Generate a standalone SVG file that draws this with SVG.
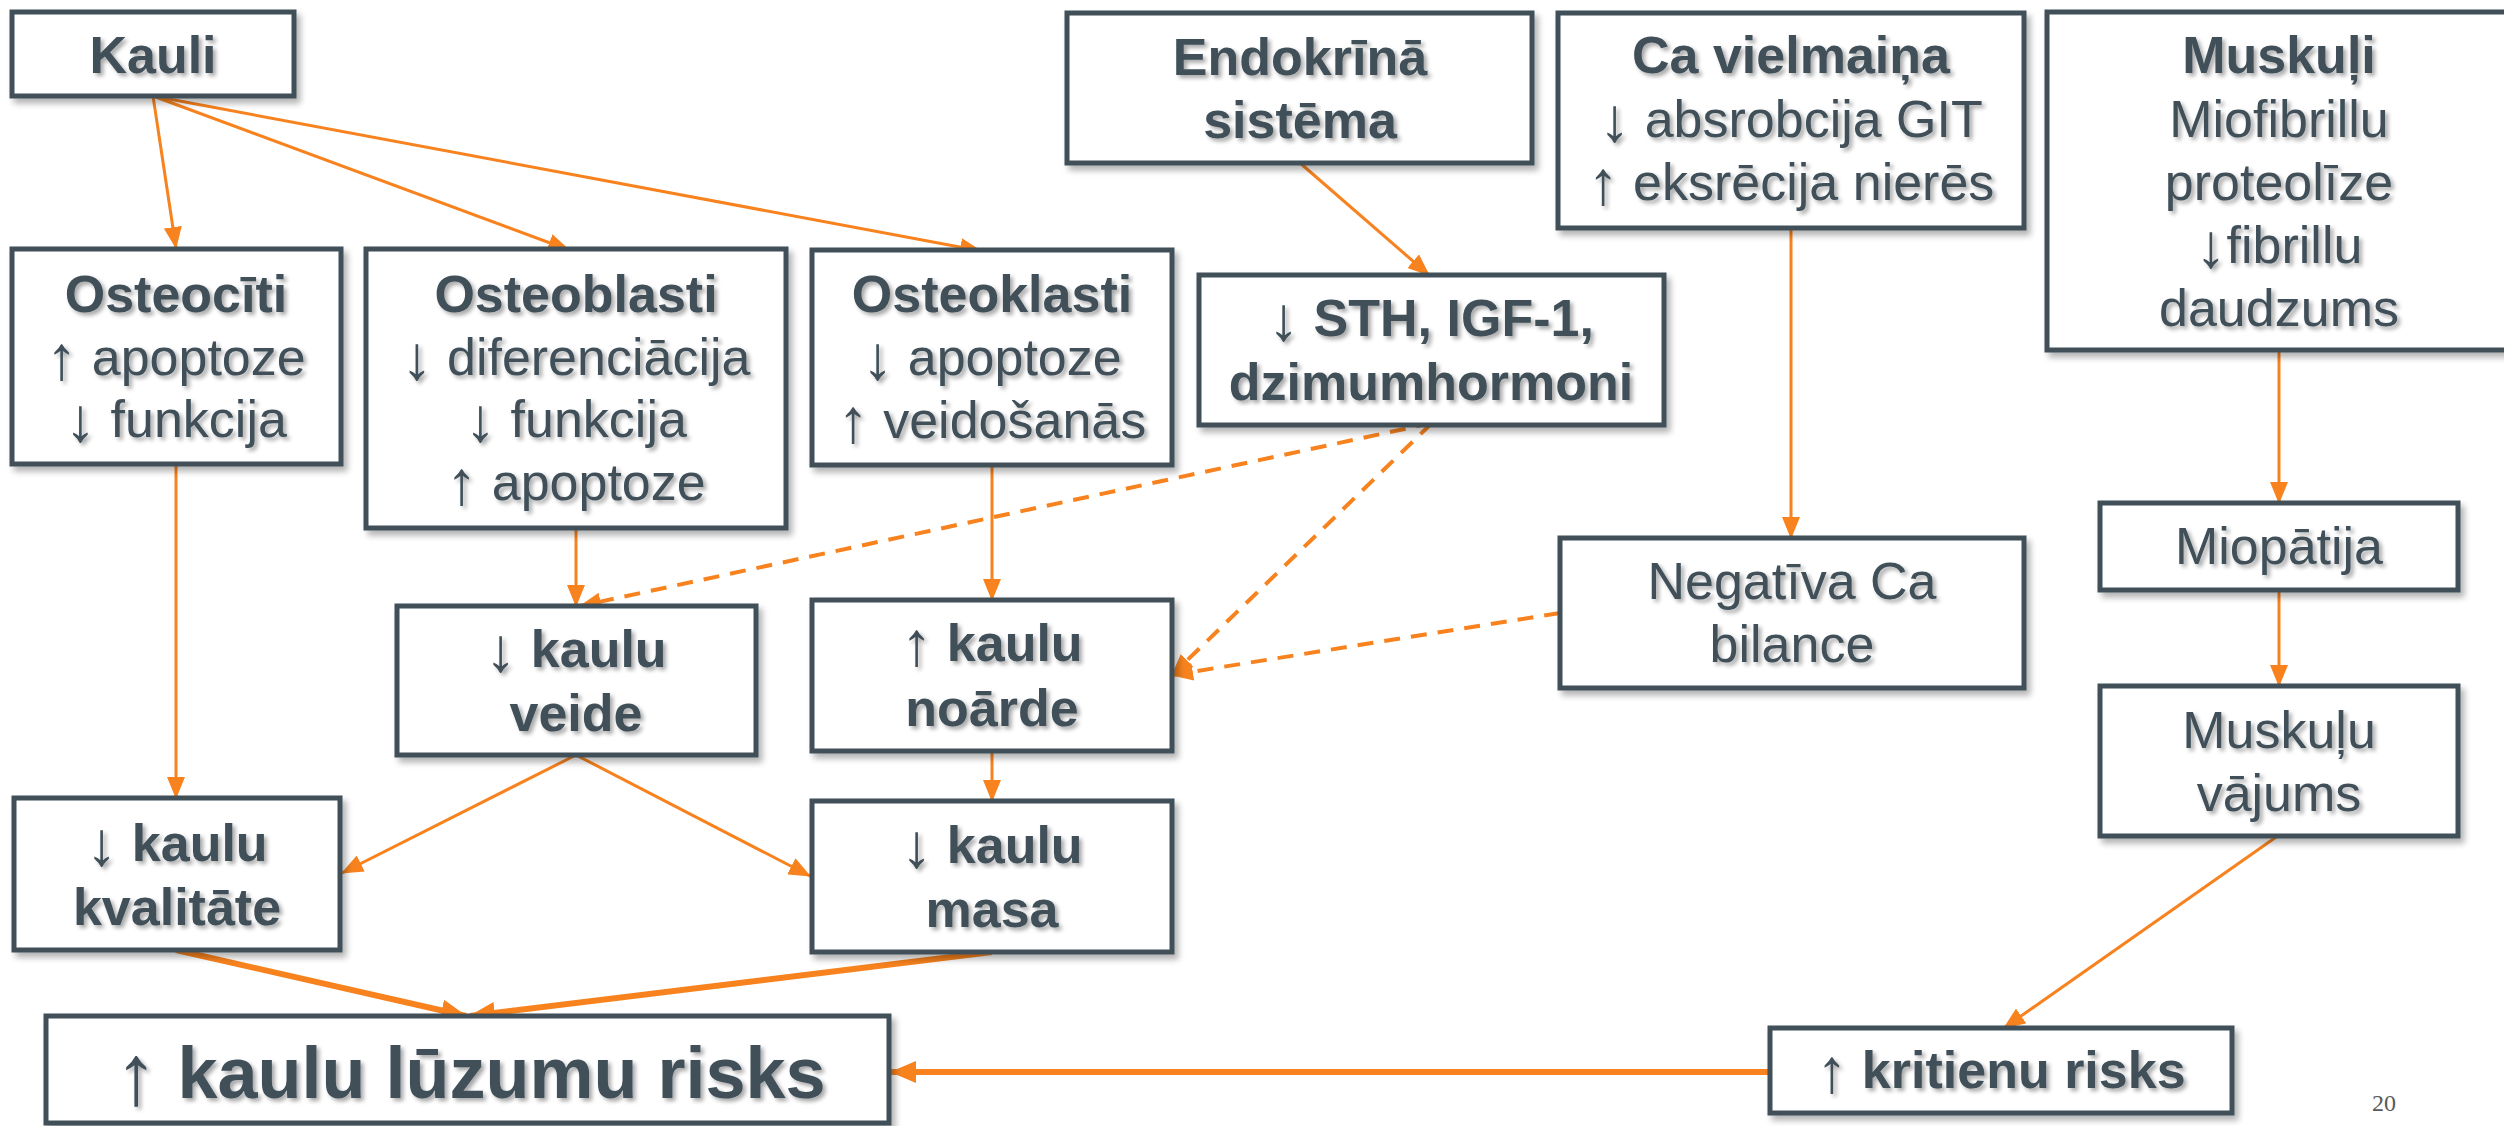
<svg xmlns="http://www.w3.org/2000/svg" width="2504" height="1126" viewBox="0 0 2504 1126">
<defs>
<style>
.box{fill:#ffffff;stroke:#3F4F59;stroke-width:5;filter:url(#bshadow)}
.t{font-family:"Liberation Sans",Arial,sans-serif;font-size:52px;fill:#3F4F59;text-anchor:middle;filter:url(#tshadow)}
.b{font-weight:bold}
.ar{font-weight:normal;font-size:62px;baseline-shift:-4px}
.big{font-size:72px}
.big .ar{font-size:86px;baseline-shift:-6px}
.c{fill:none;stroke:#F7821E;stroke-width:3}
.thick{stroke-width:6}
.dash{stroke-width:4;stroke-dasharray:16 11}
.pg{font-family:"Liberation Serif","Times New Roman",serif;font-size:24px;fill:#595959;text-anchor:middle}
</style>
<filter id="tshadow" x="-10%" y="-30%" width="125%" height="170%">
<feGaussianBlur in="SourceAlpha" stdDeviation="2"/>
<feOffset dx="3" dy="3" result="o"/>
<feComponentTransfer><feFuncA type="linear" slope="0.35"/></feComponentTransfer>
<feMerge><feMergeNode/><feMergeNode in="SourceGraphic"/></feMerge>
</filter>
<filter id="bshadow" x="-10%" y="-10%" width="125%" height="130%">
<feGaussianBlur in="SourceAlpha" stdDeviation="3"/>
<feOffset dx="4" dy="5" result="o"/>
<feComponentTransfer><feFuncA type="linear" slope="0.3"/></feComponentTransfer>
<feMerge><feMergeNode/><feMergeNode in="SourceGraphic"/></feMerge>
</filter>
<marker id="ah" markerUnits="userSpaceOnUse" markerWidth="22" markerHeight="18" refX="21" refY="9" orient="auto">
<path d="M0,0 L22,9 L0,18 z" fill="#F7821E"/>
</marker>
<marker id="ahb" markerUnits="userSpaceOnUse" markerWidth="26" markerHeight="22" refX="25" refY="11" orient="auto">
<path d="M0,0 L26,11 L0,22 z" fill="#F7821E"/>
</marker>
</defs>
<rect width="2504" height="1126" fill="#ffffff"/>

<g id="connectors">
<line class="c" x1="153" y1="96" x2="176" y2="248" marker-end="url(#ah)"/>
<line class="c" x1="153" y1="96" x2="569" y2="250" marker-end="url(#ah)"/>
<line class="c" x1="153" y1="96" x2="981" y2="251" marker-end="url(#ah)"/>
<line class="c" x1="1300" y1="163" x2="1429" y2="275" marker-end="url(#ah)"/>
<line class="c" x1="1791" y1="228" x2="1791" y2="538" marker-end="url(#ah)"/>
<line class="c" x1="2279" y1="350" x2="2279" y2="503" marker-end="url(#ah)"/>
<line class="c" x1="2279" y1="590" x2="2279" y2="686" marker-end="url(#ah)"/>
<line class="c" x1="2279" y1="835" x2="2004" y2="1028" marker-end="url(#ah)"/>
<line class="c" x1="176" y1="464" x2="176" y2="798" marker-end="url(#ah)"/>
<line class="c" x1="576" y1="528" x2="576" y2="606" marker-end="url(#ah)"/>
<line class="c" x1="992" y1="465" x2="992" y2="600" marker-end="url(#ah)"/>
<line class="c" x1="992" y1="751" x2="992" y2="801" marker-end="url(#ah)"/>
<line class="c" x1="576" y1="755" x2="342" y2="873" marker-end="url(#ah)"/>
<line class="c" x1="576" y1="755" x2="810" y2="876" marker-end="url(#ah)"/>
<line class="c thick" x1="176" y1="950" x2="466" y2="1016" marker-end="url(#ahb)"/>
<line class="c thick" x1="992" y1="952" x2="470" y2="1016" marker-end="url(#ahb)"/>
<line class="c thick" x1="1770" y1="1072" x2="891" y2="1072" marker-end="url(#ahb)"/>
<line class="c dash" x1="1432" y1="423" x2="580" y2="606" marker-end="url(#ah)"/>
<line class="c dash" x1="1432" y1="423" x2="1172" y2="675" marker-end="url(#ah)"/>
<line class="c dash" x1="1560" y1="613" x2="1172" y2="675" marker-end="url(#ah)"/>
</g>

<g id="kauli">
<rect class="box" x="12" y="12" width="282" height="84"/>
<text class="t b" x="153" y="73">Kauli</text>
</g>
<g id="osteociti">
<rect class="box" x="12" y="249" width="329" height="215"/>
<text class="t" x="176" y="312"><tspan class="b">Osteocīti</tspan><tspan x="176" dy="63"><tspan class="ar">↑</tspan> apoptoze</tspan><tspan x="176" dy="62"><tspan class="ar">↓</tspan> funkcija</tspan></text>
</g>
<g id="osteoblasti">
<rect class="box" x="366" y="249" width="420" height="279"/>
<text class="t" x="576" y="312"><tspan class="b">Osteoblasti</tspan><tspan x="576" dy="63"><tspan class="ar">↓</tspan> diferenciācija</tspan><tspan x="576" dy="62"><tspan class="ar">↓</tspan> funkcija</tspan><tspan x="576" dy="63"><tspan class="ar">↑</tspan> apoptoze</tspan></text>
</g>
<g id="osteoklasti">
<rect class="box" x="812" y="250" width="360" height="215"/>
<text class="t" x="992" y="312"><tspan class="b">Osteoklasti</tspan><tspan x="992" dy="63"><tspan class="ar">↓</tspan> apoptoze</tspan><tspan x="992" dy="63"><tspan class="ar">↑</tspan> veidošanās</tspan></text>
</g>
<g id="endokrina">
<rect class="box" x="1067" y="13" width="465" height="150"/>
<text class="t b" x="1300" y="75">Endokrīnā<tspan x="1300" dy="63">sistēma</tspan></text>
</g>
<g id="sth">
<rect class="box" x="1199" y="275" width="465" height="150"/>
<text class="t b" x="1431" y="336"><tspan class="ar">↓</tspan> STH, IGF-1,<tspan x="1431" dy="64">dzimumhormoni</tspan></text>
</g>
<g id="ca-vielmaina">
<rect class="box" x="1558" y="13" width="466" height="215"/>
<text class="t" x="1791" y="73"><tspan class="b">Ca vielmaiņa</tspan><tspan x="1791" dy="64"><tspan class="ar">↓</tspan> absrobcija GIT</tspan><tspan x="1791" dy="63"><tspan class="ar">↑</tspan> eksrēcija nierēs</tspan></text>
</g>
<g id="muskuli">
<rect class="box" x="2047" y="12" width="470" height="338"/>
<text class="t" x="2279" y="73"><tspan class="b">Muskuļi</tspan><tspan x="2279" dy="64">Miofibrillu</tspan><tspan x="2279" dy="63">proteolīze</tspan><tspan x="2279" dy="63"><tspan class="ar">↓</tspan>fibrillu</tspan><tspan x="2279" dy="63">daudzums</tspan></text>
</g>
<g id="negativa-ca">
<rect class="box" x="1560" y="538" width="464" height="150"/>
<text class="t" x="1792" y="599">Negatīva Ca<tspan x="1792" dy="63">bilance</tspan></text>
</g>
<g id="miopatija">
<rect class="box" x="2100" y="503" width="358" height="87"/>
<text class="t" x="2279" y="564">Miopātija</text>
</g>
<g id="muskulu-vajums">
<rect class="box" x="2100" y="686" width="358" height="150"/>
<text class="t" x="2279" y="748">Muskuļu<tspan x="2279" dy="63">vājums</tspan></text>
</g>
<g id="kaulu-veide">
<rect class="box" x="397" y="606" width="359" height="149"/>
<text class="t b" x="576" y="667"><tspan class="ar">↓</tspan> kaulu<tspan x="576" dy="64">veide</tspan></text>
</g>
<g id="kaulu-noarde">
<rect class="box" x="812" y="600" width="360" height="151"/>
<text class="t b" x="992" y="661"><tspan class="ar">↑</tspan> kaulu<tspan x="992" dy="65">noārde</tspan></text>
</g>
<g id="kaulu-kvalitate">
<rect class="box" x="14" y="798" width="326" height="152"/>
<text class="t b" x="177" y="861"><tspan class="ar">↓</tspan> kaulu<tspan x="177" dy="64">kvalitāte</tspan></text>
</g>
<g id="kaulu-masa">
<rect class="box" x="812" y="801" width="360" height="151"/>
<text class="t b" x="992" y="863"><tspan class="ar">↓</tspan> kaulu<tspan x="992" dy="64">masa</tspan></text>
</g>
<g id="kaulu-luzumu-risks">
<rect class="box" x="46" y="1016" width="843" height="107"/>
<text class="t b big" x="470" y="1098"><tspan class="ar">↑</tspan> kaulu lūzumu risks</text>
</g>
<g id="kritienu-risks">
<rect class="box" x="1770" y="1028" width="462" height="85"/>
<text class="t b" x="2001" y="1088"><tspan class="ar">↑</tspan> kritienu risks</text>
</g>
<text class="pg" x="2384" y="1111">20</text>
</svg>
